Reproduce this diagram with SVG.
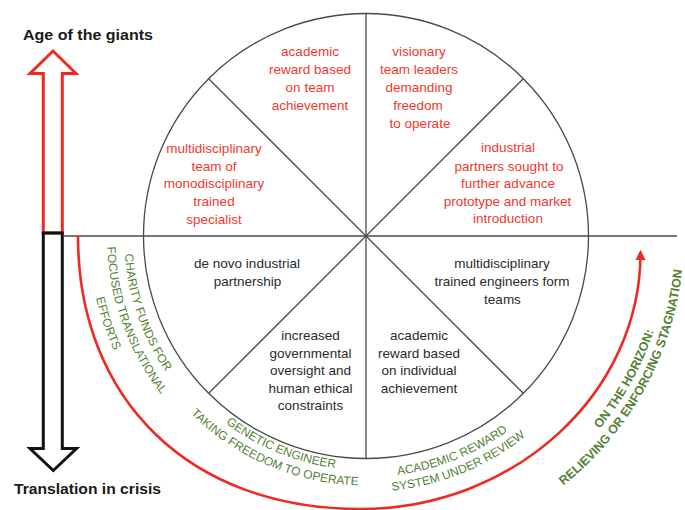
<svg xmlns="http://www.w3.org/2000/svg" width="685" height="510" viewBox="0 0 685 510">
  <defs>
    <style>
      .wheel { fill: none; stroke: #4a4a4a; stroke-width: 1.3; }
      .red { font-family: "Liberation Sans", Arial, sans-serif; font-size: 13.5px; fill: #f0382e; text-anchor: middle; }
      .dark { font-family: "Liberation Sans", Arial, sans-serif; font-size: 13.5px; fill: #2a2a2a; text-anchor: middle; }
      .green { font-family: "Liberation Sans", Arial, sans-serif; font-size: 12px; fill: #548235; text-anchor: middle; }
      .greenb { font-family: "Liberation Sans", Arial, sans-serif; font-size: 12.5px; font-weight: bold; fill: #548235; text-anchor: middle; }
      .title { font-family: "Liberation Sans", Arial, sans-serif; font-size: 15px; font-weight: bold; fill: #1a1a1a; }
    </style>
    <marker id="redHead" viewBox="0 0 10 10" refX="8" refY="5" markerWidth="4" markerHeight="4" orient="auto" markerUnits="strokeWidth">
      <path d="M0,0 L10,5 L0,10 z" fill="#ee2a22"/>
    </marker>
    <!-- lower half-circle baselines around the wheel centre (366,236), running left to right -->
    <path id="r242" d="M124,236 A242,242 0 0 0 608,236"/>
    <path id="r259" d="M107,236 A259,259 0 0 0 625,236"/>
    <path id="r277" d="M89,236 A277,277 0 0 0 643,236"/>
    <path id="r234" d="M132,236 A234,234 0 0 0 600,236"/>
    <path id="r249" d="M116.5,236 A249.5,249.5 0 0 0 615.5,236"/>
    <path id="r241" d="M125,236 A241,241 0 0 0 607,236"/>
    <path id="r256" d="M110,236 A256,256 0 0 0 622,236"/>
    <path id="r303" d="M63,236 A303,303 0 0 0 669,236"/>
    <path id="r318" d="M48,236 A318,318 0 0 0 684,236"/>
  </defs>

  <rect width="685" height="510" fill="#ffffff"/>

  <!-- timeline arrows on the left -->
  <g id="giants-arrow">
    <polygon points="43.3,233 43.3,73.5 30,73.5 53,51 76,73.5 62.3,73.5 62.3,233" fill="none" stroke="#ee2a22" stroke-width="3" stroke-linejoin="miter"/>
    <text class="title" x="23" y="39.5" textLength="130" lengthAdjust="spacingAndGlyphs">Age of the giants</text>
  </g>
  <g id="crisis-arrow">
    <polygon points="43.3,233 62.3,233 62.3,448.5 76.5,448.5 53.3,470.5 30,448.5 43.3,448.5" fill="none" stroke="#111111" stroke-width="3" stroke-linejoin="miter"/>
    <text class="title" x="14" y="493.5" textLength="147" lengthAdjust="spacingAndGlyphs">Translation in crisis</text>
  </g>

  <!-- wheel frame: circle, axis and spokes -->
  <g id="connectors">
    <line class="wheel" x1="63" y1="236" x2="677" y2="236"/>
    <circle class="wheel" cx="366" cy="236" r="222.5"/>
    <line class="wheel" x1="366" y1="13.5" x2="366" y2="458.5"/>
    <line class="wheel" x1="208.7" y1="78.7" x2="523.3" y2="393.3"/>
    <line class="wheel" x1="523.3" y1="78.7" x2="208.7" y2="393.3"/>
    <path d="M78,236 C78,400 190,509 360,509 C515,509 641,393 640.5,252" fill="none" stroke="#ee2a22" stroke-width="2.6" marker-end="url(#redHead)"/>
  </g>

  <!-- upper half: red sectors -->
  <g id="sector-team-reward">
    <text class="red" x="310" y="56">academic</text>
    <text class="red" x="310" y="74">reward based</text>
    <text class="red" x="310" y="92">on team</text>
    <text class="red" x="310" y="109.5">achievement</text>
  </g>
  <g id="sector-visionary">
    <text class="red" x="419" y="56">visionary</text>
    <text class="red" x="419" y="74">team leaders</text>
    <text class="red" x="419" y="92">demanding</text>
    <text class="red" x="418" y="109.5">freedom</text>
    <text class="red" x="420" y="127.5">to operate</text>
  </g>
  <g id="sector-multidisciplinary-team">
    <text class="red" x="214" y="153">multidisciplinary</text>
    <text class="red" x="214" y="170.5">team of</text>
    <text class="red" x="214" y="188">monodisciplinary</text>
    <text class="red" x="214" y="205.5">trained</text>
    <text class="red" x="214" y="223.5">specialist</text>
  </g>
  <g id="sector-industrial-partners">
    <text class="red" x="508" y="152">industrial</text>
    <text class="red" x="509" y="170.5">partners sought to</text>
    <text class="red" x="508" y="188">further advance</text>
    <text class="red" x="507.5" y="205.5">prototype and market</text>
    <text class="red" x="508" y="223">introduction</text>
  </g>

  <!-- lower half: dark sectors -->
  <g id="sector-de-novo">
    <text class="dark" x="247" y="268">de novo industrial</text>
    <text class="dark" x="247.5" y="286">partnership</text>
  </g>
  <g id="sector-trained-engineers">
    <text class="dark" x="502" y="268">multidisciplinary</text>
    <text class="dark" x="502" y="286">trained engineers form</text>
    <text class="dark" x="502.5" y="303.5">teams</text>
  </g>
  <g id="sector-oversight">
    <text class="dark" x="310.5" y="339.5">increased</text>
    <text class="dark" x="310.5" y="358">governmental</text>
    <text class="dark" x="310.5" y="374.5">oversight and</text>
    <text class="dark" x="310.5" y="393">human ethical</text>
    <text class="dark" x="310.5" y="410">constraints</text>
  </g>
  <g id="sector-individual-reward">
    <text class="dark" x="419" y="339.5">academic</text>
    <text class="dark" x="419" y="358">reward based</text>
    <text class="dark" x="419" y="374.5">on individual</text>
    <text class="dark" x="419" y="393">achievement</text>
  </g>

  <!-- curved labels around the rim -->
  <g id="label-charity">
    <text class="green"><textPath href="#r242" startOffset="10.67%">CHARITY FUNDS FOR</textPath></text>
    <text class="green"><textPath href="#r259" startOffset="11.17%">FOCUSED TRANSLATIONAL</textPath></text>
    <text class="green"><textPath href="#r277" startOffset="10.39%">EFFORTS</textPath></text>
  </g>
  <g id="label-genetic">
    <text class="green"><textPath href="#r234" startOffset="37.67%">GENETIC ENGINEER</textPath></text>
    <text class="green"><textPath href="#r249" startOffset="37.11%">TAKING FREEDOM TO OPERATE</textPath></text>
  </g>
  <g id="label-academic">
    <text class="green"><textPath href="#r241" startOffset="62.11%">ACADEMIC REWARD</textPath></text>
    <text class="green"><textPath href="#r256" startOffset="62.33%">SYSTEM UNDER REVIEW</textPath></text>
  </g>
  <g id="label-horizon">
    <text class="greenb"><textPath href="#r303" startOffset="83.94%">ON THE HORIZON:</textPath></text>
    <text class="greenb"><textPath href="#r318" startOffset="83.94%">RELIEVING OR ENFORCING STAGNATION</textPath></text>
  </g>
</svg>
